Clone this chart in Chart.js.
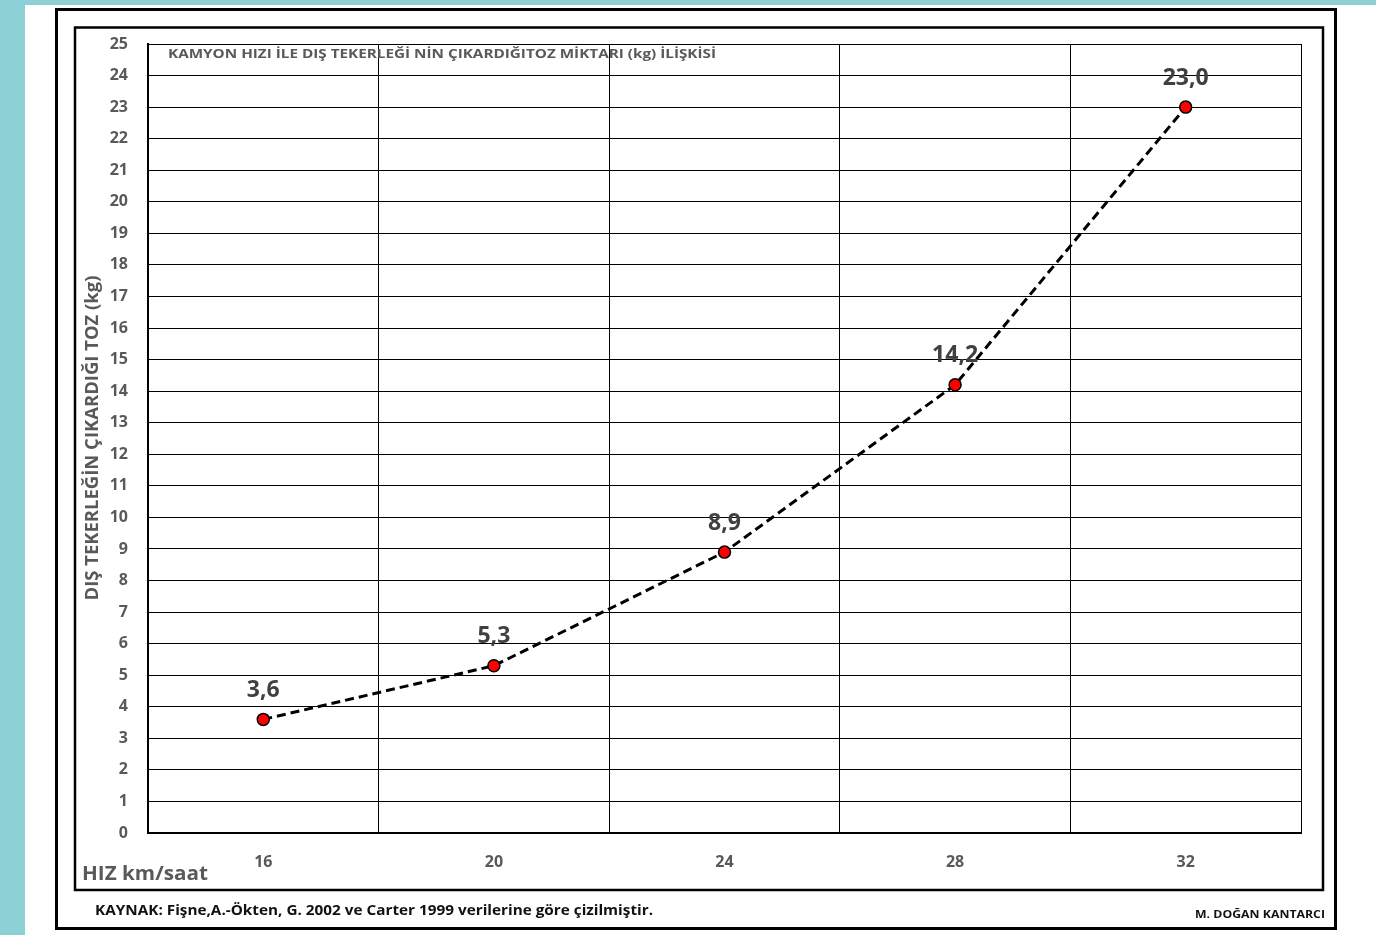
<!DOCTYPE html>
<html>
<head>
<meta charset="utf-8">
<title>Kamyon hızı ve toz miktarı</title>
<script src="https://cdn.jsdelivr.net/npm/chart.js@4.4.1/dist/chart.umd.min.js"></script>
<style>
  body { margin: 0; background: #8dd0d6; }
  canvas { display: block; }
</style>
</head>
<body>
<canvas id="myChart" width="1376" height="935"></canvas>
<script>
// speeds (km/saat) on the x axis
const speeds = ["16", "20", "24", "28", "32"];
// dust thrown by the outer wheel (kg)
const dust = [3.6, 5.3, 8.9, 14.2, 23.0];
// value labels written the Turkish way, with a comma
const dustLabels = ["3,6", "5,3", "8,9", "14,2", "23,0"];
const yMin = 0;
const yMax = 25;

const chartTitle = "KAMYON HIZI İLE DIŞ TEKERLEĞİ NİN ÇIKARDIĞITOZ MİKTARI (kg) İLİŞKİSİ";
const yTitle = "DIŞ TEKERLEĞİN ÇIKARDIĞI TOZ (kg)";
const xTitle = "HIZ km/saat";
const sourceText = "KAYNAK: Fişne,A.-Ökten, G. 2002 ve Carter 1999 verilerine göre çizilmiştir.";
const authorText = "M. DOĞAN KANTARCI";

const grey = "#595959";
const fontName = "'Open Sans', 'DejaVu Sans', sans-serif";

// write a text stretched or squeezed to a given width
function fitText(ctx, text, x, y, width) {
  const w = ctx.measureText(text).width;
  ctx.save();
  ctx.translate(x, y);
  ctx.scale(width / w, 1);
  ctx.fillText(text, 0, 0);
  ctx.restore();
}

// page background + the two black frames round the picture
const framePlugin = {
  id: "frames",
  beforeDraw(chart) {
    const ctx = chart.ctx;
    ctx.save();
    ctx.fillStyle = "#8dd0d6";
    ctx.fillRect(0, 0, chart.width, chart.height);
    ctx.fillStyle = "#ffffff";
    ctx.fillRect(25, 5, chart.width - 25, chart.height - 5);
    ctx.strokeStyle = "#000";
    ctx.lineWidth = 3;
    ctx.strokeRect(56.5, 9.5, 1279, 919);
    ctx.lineWidth = 2.5;
    ctx.strokeRect(75, 27.5, 1248, 862.5);
    ctx.restore();
  }
};

// the value above each point
const labelPlugin = {
  id: "valueLabels",
  afterDatasetsDraw(chart) {
    const ctx = chart.ctx;
    const points = chart.getDatasetMeta(0).data;
    ctx.save();
    ctx.fillStyle = "#404040";
    ctx.font = "bold 23px " + fontName;
    ctx.textAlign = "center";
    ctx.textBaseline = "middle";
    points.forEach((p, i) => {
      ctx.fillText(dustLabels[i], p.x, p.y - 29);
    });
    ctx.restore();
  }
};

// titles and the small texts at the bottom
const textPlugin = {
  id: "texts",
  afterDraw(chart) {
    const ctx = chart.ctx;
    const area = chart.chartArea;
    ctx.save();
    ctx.textBaseline = "alphabetic";
    ctx.textAlign = "left";

    ctx.fillStyle = grey;
    ctx.font = "bold 12.5px " + fontName;
    fitText(ctx, chartTitle, area.left + 20, 58, 548);

    ctx.font = "bold 20px " + fontName;
    fitText(ctx, xTitle, 82, 880, 126);

    ctx.fillStyle = "#111";
    ctx.font = "bold 15px " + fontName;
    fitText(ctx, sourceText, 95, 915, 558);

    ctx.font = "bold 11px " + fontName;
    fitText(ctx, authorText, 1195, 918, 130);

    ctx.fillStyle = grey;
    ctx.font = "bold 17.5px " + fontName;
    ctx.translate(93, (area.top + area.bottom) / 2);
    ctx.rotate(-Math.PI / 2);
    ctx.textBaseline = "middle";
    fitText(ctx, yTitle, -162, 0, 325);
    ctx.restore();
  }
};

const myChart = document.getElementById("myChart");

let lineChart = new Chart(myChart, {
  type: "line",
  data: {
    labels: speeds,
    datasets: [
      {
        data: dust,
        borderColor: "#000",
        borderWidth: 3,
        borderDash: [9, 5],
        backgroundColor: "#ff0000",
        pointBackgroundColor: "#ff0000",
        pointBorderColor: "#000",
        pointBorderWidth: 1.5,
        pointRadius: 6,
        tension: 0,
        fill: false
      }
    ]
  },
  options: {
    responsive: false,
    animation: false,
    devicePixelRatio: 1,
    layout: {
      padding: { left: 80, right: 75, top: 44, bottom: 60 }
    },
    plugins: {
      legend: { display: false },
      tooltip: { enabled: false },
      title: { display: false }
    },
    scales: {
      x: {
        type: "category",
        offset: true,
        afterFit(scale) { scale.height = 42; },
        grid: {
          offset: true,
          color: "#000",
          lineWidth: 1,
          drawTicks: false
        },
        border: { display: true, color: "#000", width: 2 },
        ticks: {
          color: grey,
          padding: 20,
          font: { family: fontName, size: 16, weight: "bold" }
        }
      },
      y: {
        min: yMin,
        max: yMax,
        afterFit(scale) { scale.width = 68; },
        grid: {
          color: "#000",
          lineWidth: 1,
          drawTicks: false
        },
        border: { display: true, color: "#000", width: 2 },
        ticks: {
          stepSize: 1,
          color: grey,
          padding: 20,
          font: { family: fontName, size: 16, weight: "bold" }
        }
      }
    }
  },
  plugins: [framePlugin, labelPlugin, textPlugin]
});
</script>
</body>
</html>
